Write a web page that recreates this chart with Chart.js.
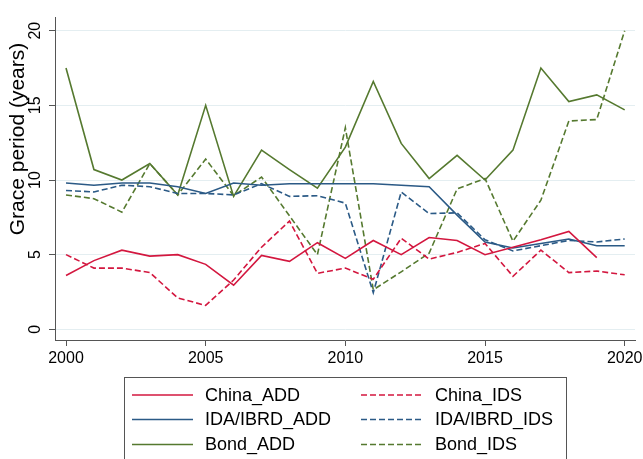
<!DOCTYPE html>
<html>
<head>
<meta charset="utf-8">
<script src="https://cdn.jsdelivr.net/npm/chart.js@4/dist/chart.umd.min.js"></script>
<style>
html,body{margin:0;padding:0;background:#fff;}
#wrap{position:relative;width:643px;height:459px;}
</style>
</head>
<body>
<div id="wrap"><canvas id="c" width="643" height="459"></canvas></div>
<script>
const years = [2000,2001,2002,2003,2004,2005,2006,2007,2008,2009,2010,2011,2012,2013,2014,2015,2016,2017,2018,2019,2020];
const chinaADD = [3.6,4.6,5.3,4.9,5.0,4.35,2.95,4.95,4.55,5.8,4.75,5.95,5.0,6.15,5.95,5.0,5.5,6.0,6.55,4.8,null];
const chinaIDS = [5.0,4.1,4.1,3.8,2.1,1.6,3.3,5.5,7.25,3.75,4.1,3.35,6.1,4.7,5.15,5.75,3.55,5.3,3.8,3.9,3.65];
const idaADD = [9.8,9.65,9.8,9.8,9.55,9.1,9.8,9.65,9.75,9.75,9.75,9.75,9.65,9.55,7.65,5.85,5.45,5.75,6.05,5.6,5.6];
const idaIDS = [9.3,9.2,9.65,9.55,9.1,9.1,9.0,9.75,8.9,8.95,8.45,2.45,9.2,7.75,7.8,6.0,5.25,5.6,5.95,5.85,6.05];
const bondADD = [17.5,10.7,10.0,11.1,9.0,15.0,8.9,12.0,10.7,9.45,12.2,16.6,12.45,10.1,11.65,10.0,12.0,17.5,15.25,15.7,14.7];
const bondIDS = [9.0,8.75,7.85,11.1,9.0,11.4,8.95,10.2,7.6,5.0,13.5,2.65,3.85,5.1,9.4,10.1,5.9,8.65,13.95,14.05,20.0];
const xTicks = [2000,2005,2010,2015,2020];
const yTicks = [0,5,10,15,20];
const yTitle = 'Grace period (years)';

const RED = '#d3173f', BLUE = '#2b5a86', GREEN = '#55792f';
const FONT = '"Liberation Sans", Arial, sans-serif';

function pts(arr){ return years.map((y,i)=>({x:y,y:arr[i]})); }
function ds(label, arr, color, dashed){
  return {label, data:pts(arr), borderColor:color, backgroundColor:color, borderWidth:1.6,
    borderDash: dashed ? [6,3] : [], pointRadius:0, tension:0, fill:false, spanGaps:false};
}

const legendPlugin = {
  id:'boxLegend',
  afterDraw(chart){
    const ctx = chart.ctx;
    ctx.save();
    ctx.strokeStyle = '#555';
    ctx.lineWidth = 1;
    ctx.strokeRect(124.5, 377.5, 442, 100);
    const rows = [395, 419.5, 444.5];
    const cols = [{x0:132,x1:193,tx:205},{x0:361,x1:424,tx:435}];
    const order = [[0,1],[2,3],[4,5]];
    ctx.font = '18px ' + FONT;
    ctx.fillStyle = '#000';
    ctx.textBaseline = 'middle';
    ctx.textAlign = 'left';
    order.forEach((pair,r)=>{
      pair.forEach((di,c)=>{
        const d = chart.data.datasets[di];
        const col = cols[c];
        ctx.beginPath();
        ctx.setLineDash(d.borderDash);
        ctx.strokeStyle = d.borderColor;
        ctx.lineWidth = 1.6;
        ctx.moveTo(col.x0, rows[r]);
        ctx.lineTo(col.x1, rows[r]);
        ctx.stroke();
        ctx.setLineDash([]);
        ctx.fillText(d.label, col.tx, rows[r] + 1);
      });
    });
    // y tick labels (vertical, reading upward)
    const ys = chart.scales.y;
    ctx.font = '16px ' + FONT;
    ctx.textAlign = 'center';
    ctx.textBaseline = 'middle';
    yTicks.forEach(v=>{
      const py = ys.getPixelForValue(v);
      ctx.save();
      ctx.translate(36, py);
      ctx.rotate(-Math.PI/2);
      ctx.fillText(String(v), 0, 0);
      ctx.restore();
    });
    // y axis title
    ctx.font = '21px ' + FONT;
    ctx.translate(18, 139);
    ctx.rotate(-Math.PI/2);
    ctx.textAlign = 'center';
    ctx.textBaseline = 'middle';
    ctx.fillText(yTitle, 0, 0);
    ctx.restore();
  }
};

new Chart(document.getElementById('c'), {
  type:'line',
  data:{ datasets:[
    ds('China_ADD', chinaADD, RED, false),
    ds('China_IDS', chinaIDS, RED, true),
    ds('IDA/IBRD_ADD', idaADD, BLUE, false),
    ds('IDA/IBRD_IDS', idaIDS, BLUE, true),
    ds('Bond_ADD', bondADD, GREEN, false),
    ds('Bond_IDS', bondIDS, GREEN, true)
  ]},
  options:{
    responsive:false, animation:false,
    layout:{padding:{top:17,right:8,bottom:89,left:0}},
    plugins:{legend:{display:false}, tooltip:{enabled:false}},
    scales:{
      x:{ type:'linear', min:1999.606, max:2020.369,
        afterBuildTicks(s){ s.ticks = xTicks.map(v=>({value:v})); },
        afterFit(s){ s.height = 30; s.paddingLeft = 0; s.paddingRight = 0; },
        grid:{drawOnChartArea:false, drawTicks:true, tickLength:6, tickColor:'#555', color:'#555'},
        border:{display:true, color:'#555', width:1},
        ticks:{font:{family:FONT, size:16}, color:'#000', padding:3, maxRotation:0, minRotation:0,
          callback:(v)=>String(v)}
      },
      y:{ type:'linear', min:-0.717, max:20.918,
        afterBuildTicks(s){ s.ticks = yTicks.map(v=>({value:v})); },
        afterFit(s){ s.width = 55; s.paddingTop = 0; s.paddingBottom = 0; },
        grid:{color:'#e4eef1', lineWidth:1, drawTicks:true, tickLength:6, tickColor:'#555'},
        border:{display:true, color:'#555', width:1},
        ticks:{display:false}
      }
    }
  },
  plugins:[legendPlugin]
});
</script>
</body>
</html>
